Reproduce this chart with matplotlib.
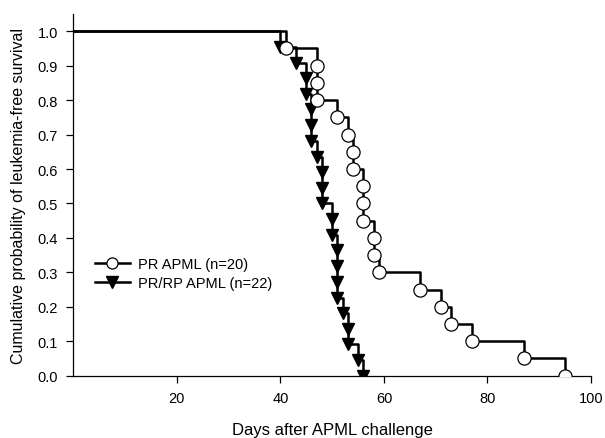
import matplotlib
matplotlib.use("Agg")
import matplotlib.pyplot as plt

plt.rcParams['font.family'] = ['Liberation Sans', 'DejaVu Sans']

# PR APML (n=20): event days and survival after each event
pr_days = [41, 47, 47, 47, 51, 53, 54, 54, 56, 56, 56, 58, 58, 59, 67, 71, 73, 77, 87, 95]
pr_surv = [0.95, 0.90, 0.85, 0.80, 0.75, 0.70, 0.65, 0.60, 0.55, 0.50,
           0.45, 0.40, 0.35, 0.30, 0.25, 0.20, 0.15, 0.10, 0.05, 0.00]

# PR/RP APML (n=22)
prrp_days = [40, 43, 45, 45, 46, 46, 46, 47, 48, 48, 48, 50, 50, 51, 51, 51, 51, 52, 53, 53, 55, 56]
prrp_surv = [0.955, 0.909, 0.864, 0.818, 0.773, 0.727, 0.682, 0.636, 0.591, 0.545, 0.500,
             0.455, 0.409, 0.364, 0.318, 0.273, 0.227, 0.182, 0.136, 0.091, 0.045, 0.000]

labels = ["PR APML (n=20)", "PR/RP APML (n=22)"]
x_ticks = [20, 40, 60, 80, 100]
y_ticks = [0.0, 0.1, 0.2, 0.3, 0.4, 0.5, 0.6, 0.7, 0.8, 0.9, 1.0]

fig = plt.figure(figsize=(6.05, 4.39), dpi=100)
ax = fig.add_axes([0.1212, 0.1419, 0.8557, 0.8239])

lw = 1.8
# PR/RP curve
ax.step([0] + prrp_days, [1.0] + prrp_surv, where='post', color='black', lw=lw, zorder=2)
ax.plot(prrp_days, prrp_surv, linestyle='none', marker='v', markersize=9,
        markerfacecolor='black', markeredgecolor='black', zorder=3)
# PR curve
ax.step([0] + pr_days, [1.0] + pr_surv, where='post', color='black', lw=lw, zorder=2)
ax.plot(pr_days, pr_surv, linestyle='none', marker='o', markersize=9.5,
        markerfacecolor='white', markeredgecolor='black', markeredgewidth=0.9, zorder=4)

h1, = ax.plot([], [], color='black', lw=lw, marker='o', markersize=8,
              markerfacecolor='white', markeredgecolor='black', markeredgewidth=0.9)
h2, = ax.plot([], [], color='black', lw=lw, marker='v', markersize=8,
              markerfacecolor='black', markeredgecolor='black')
ax.legend([h1, h2], labels, loc='upper left', bbox_to_anchor=(0.03, 0.345),
          frameon=False, fontsize=10.5, handlelength=2.4, handletextpad=0.6,
          labelspacing=0.35, borderaxespad=0)

ax.set_xlim(0, 100)
ax.set_ylim(0, 1.05)
ax.set_xticks(x_ticks)
ax.set_yticks(y_ticks)
ax.set_yticklabels([f"{v:.1f}" for v in y_ticks])
ax.spines['top'].set_visible(False)
ax.spines['right'].set_visible(False)
for s in ('left', 'bottom'):
    ax.spines[s].set_linewidth(0.9)
ax.tick_params(direction='out', length=5, width=0.9, labelsize=10.5, pad=6)
ax.set_xlabel("Days after APML challenge", fontsize=12, labelpad=12)
ax.set_ylabel("Cumulative probability of leukemia-free survival", fontsize=11.5, labelpad=8)

fig.savefig("out.png", dpi=100)
